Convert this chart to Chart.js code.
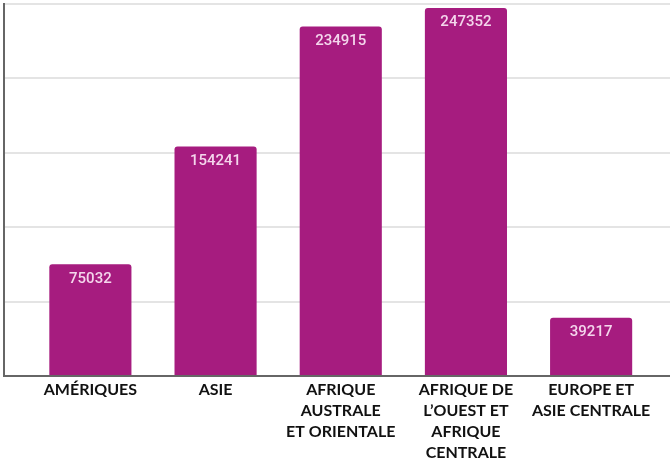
<!DOCTYPE html>
<html>
<head>
<meta charset="utf-8">
<script src="https://cdn.jsdelivr.net/npm/chart.js@4.4.1/dist/chart.umd.min.js"></script>
<style>
html,body{margin:0;padding:0;background:#fff;}
#wrap{width:670px;height:458px;position:relative;}
</style>
</head>
<body>
<div id="wrap"><canvas id="c"></canvas></div>
<script>
const categories = [
  ["AMÉRIQUES"],
  ["ASIE"],
  ["AFRIQUE", "AUSTRALE", "ET ORIENTALE"],
  ["AFRIQUE DE", "L\u2019OUEST ET", "AFRIQUE", "CENTRALE"],
  ["EUROPE ET", "ASIE CENTRALE"]
];
const values = [75032, 154241, 234915, 247352, 39217];
const yTicks = [0, 50000, 100000, 150000, 200000, 250000];

const points = values.map((v, i) => ({x: i, y: v}));

const valueLabels = {
  id: 'valueLabels',
  afterDatasetsDraw(chart) {
    const ctx = chart.ctx;
    const meta = chart.getDatasetMeta(0);
    ctx.save();
    ctx.font = '500 15px Roboto';
    ctx.fillStyle = '#f4d6ec';
    ctx.textAlign = 'center';
    ctx.textBaseline = 'top';
    meta.data.forEach((bar, i) => {
      ctx.fillText(String(values[i]), bar.x, bar.y + 7);
    });
    ctx.restore();
  }
};

new Chart(document.getElementById('c'), {
  type: 'bar',
  data: {
    datasets: [{
      data: points,
      backgroundColor: '#a61c7f',
      borderWidth: 0,
      borderRadius: {topLeft: 3, topRight: 3, bottomLeft: 0, bottomRight: 0},
      borderSkipped: 'bottom',
      categoryPercentage: 1,
      barPercentage: 0.656
    }]
  },
  options: {
    responsive: true,
    maintainAspectRatio: false,
    animation: false,
    layout: {padding: {top: 4, left: 4, right: 0, bottom: 0}},
    plugins: {legend: {display: false}, tooltip: {enabled: false}},
    scales: {
      x: {
        type: 'linear',
        offset: false,
        bounds: 'data',
        min: -0.69,
        max: 4.63,
        afterBuildTicks(scale) {
          scale.ticks = categories.map((c, i) => ({value: i}));
        },
        afterFit(scale) { scale.height = 82; },
        grid: {display: false, drawTicks: false},
        border: {display: true, color: '#666', width: 2},
        ticks: {
          autoSkip: false,
          maxRotation: 0,
          padding: 3,
          color: '#111',
          font: {family: 'Lato', size: 16, weight: 'bold', lineHeight: 1.32},
          callback: (v) => categories[v] || ''
        }
      },
      y: {
        min: 0,
        max: 250000,
        afterBuildTicks(scale) {
          scale.ticks = yTicks.map(v => ({value: v}));
        },
        grid: {color: '#e4e4e4', lineWidth: 2, drawTicks: false},
        border: {display: true, color: '#666', width: 2},
        ticks: {display: false}
      }
    }
  },
  plugins: [valueLabels]
});
</script>
</body>
</html>
